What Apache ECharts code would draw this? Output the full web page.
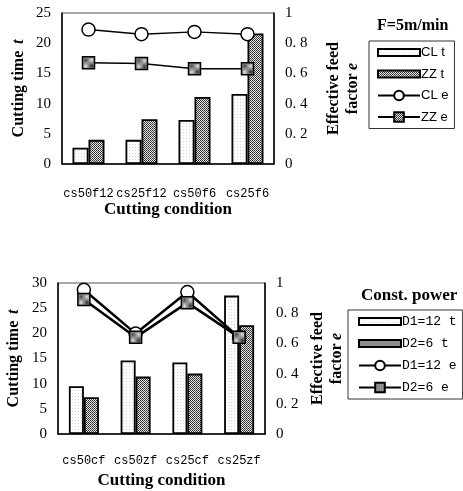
<!DOCTYPE html>
<html>
<head>
<meta charset="utf-8">
<script src="https://cdn.jsdelivr.net/npm/echarts@6/dist/echarts.min.js"></script>
<style>
  html, body { margin: 0; padding: 0; background: #fff; }
  #main { width: 463px; height: 491px; }
</style>
</head>
<body>
<div id="main"></div>
<script>
// top chart: constant feed F=5m/min
var topCats = ['cs50f12', 'cs25f12', 'cs50f6', 'cs25f6'];
var topCLt = [2.7, 4.0, 7.3, 11.6];
var topZZt = [4.0, 7.4, 11.1, 21.6];
var topCLe = [0.89, 0.86, 0.875, 0.86];
var topZZe = [0.67, 0.665, 0.63, 0.63];

// bottom chart: constant power
var botCats = ['cs50cf', 'cs50zf', 'cs25cf', 'cs25zf'];
var botD1t = [9.5, 14.6, 14.2, 27.5];
var botD2t = [7.3, 11.4, 12.0, 21.6];
var botD1e = [0.955, 0.665, 0.94, 0.64];
var botD2e = [0.89, 0.64, 0.87, 0.64];

var serif = '"Liberation Serif", "Times New Roman", serif';
var mono = '"Liberation Mono", "Courier New", monospace';

// stipple fills for the bars
function makePattern(size, bg, dots) {
    var c = document.createElement('canvas');
    c.width = size; c.height = size;
    var ctx = c.getContext('2d');
    ctx.fillStyle = bg;
    ctx.fillRect(0, 0, size, size);
    dots.forEach(function (d) {
        ctx.fillStyle = d[2];
        ctx.fillRect(d[0], d[1], 1, 1);
    });
    return { image: c, repeat: 'repeat' };
}
var lightFill = makePattern(3, '#fdfdfd', [[0, 0, '#d6d6d6']]);
var darkFill = makePattern(2, '#e6e6e6', [[0, 0, '#2a2a2a'], [1, 1, '#444']]);

function rightFmt(v) {
    if (v === 0) return '0';
    if (v === 1) return '1';
    return v.toFixed(1).replace('.', '. ');
}

var axisLine = { lineStyle: { color: '#000', width: 1.5 } };
var tickIn = { inside: true, length: 4, lineStyle: { color: '#000', width: 1.2 } };

function xAxis(grid, cats, margin, gap) {
    return {
        type: 'category', gridIndex: grid, data: cats,
        axisLine: axisLine,
        axisTick: tickIn,
        axisLabel: { color: '#000', fontFamily: mono, fontSize: 12, margin: margin, interval: 0, hideOverlap: false },
        name: 'Cutting condition', nameLocation: 'middle', nameGap: gap,
        nameTextStyle: { color: '#000', fontFamily: serif, fontWeight: 'bold', fontSize: 17 }
    };
}

function leftAxis(grid, max, gap) {
    return {
        type: 'value', gridIndex: grid, min: 0, max: max, interval: 5,
        axisLine: { show: true, lineStyle: { color: '#000', width: 1.5 } },
        axisTick: tickIn,
        splitLine: { show: false },
        axisLabel: { color: '#000', fontFamily: serif, fontSize: 15, margin: 11 },
        name: '{a|Cutting time}  {b|t}', nameLocation: 'middle', nameGap: gap, nameRotate: 90,
        nameTextStyle: {
            color: '#000',
            rich: {
                a: { fontFamily: serif, fontWeight: 'bold', fontSize: 16, color: '#000' },
                b: { fontFamily: serif, fontWeight: 'bold', fontStyle: 'italic', fontSize: 16, color: '#000' }
            }
        }
    };
}

function rightAxis(grid, gap) {
    return {
        type: 'value', gridIndex: grid, position: 'right', min: 0, max: 1, interval: 0.2,
        axisLine: { show: true, lineStyle: { color: '#000', width: 1.5 } },
        axisTick: tickIn,
        splitLine: { show: false },
        axisLabel: { color: '#000', fontFamily: serif, fontSize: 15, margin: 11, formatter: rightFmt },
        name: '{a|Effective feed}\n{a|factor} {b|e}', nameLocation: 'middle', nameGap: gap, nameRotate: 90,
        nameTextStyle: {
            color: '#000', align: 'center', lineHeight: 19,
            rich: {
                a: { fontFamily: serif, fontWeight: 'bold', fontSize: 16, color: '#000', lineHeight: 19 },
                b: { fontFamily: serif, fontWeight: 'bold', fontStyle: 'italic', fontSize: 16, color: '#000', lineHeight: 19 }
            }
        }
    };
}

function barSeries(name, x, y, data, fill, w) {
    return {
        name: name, type: 'bar', xAxisIndex: x, yAxisIndex: y, data: data,
        barWidth: w, barGap: '0%',
        itemStyle: { color: fill, borderColor: '#000', borderWidth: 1.8 }
    };
}

function lineSeries(name, x, y, data, symbol, fill, lw) {
    return {
        name: name, type: 'line', xAxisIndex: x, yAxisIndex: y, data: data,
        symbol: symbol, symbolSize: symbol === 'circle' ? 13 : 12,
        lineStyle: { color: '#000', width: lw },
        itemStyle: { color: fill, borderColor: '#000', borderWidth: 1.5 },
        z: 5
    };
}

var barIcon = 'path://M0 0H42V7H0Z';

var myChart = echarts.init(document.getElementById('main'), null, { renderer: 'canvas' });

var option = {
    animation: false,
    backgroundColor: '#fff',
    title: [
        { text: 'F=5m/min', left: 372, top: 13,
          textStyle: { fontFamily: serif, fontWeight: 'bold', fontSize: 16, color: '#000' } },
        { text: 'Const. power', left: 356, top: 282,
          textStyle: { fontFamily: serif, fontWeight: 'bold', fontSize: 17, color: '#000' } }
    ],
    legend: [
        {
            orient: 'vertical', left: 369, top: 41, width: 90,
            borderColor: '#333', borderWidth: 1, padding: [5, 6, 5, 8],
            itemWidth: 42, itemHeight: 12, itemGap: 8.5,
            textStyle: { fontFamily: '"Liberation Sans", Arial, sans-serif', fontSize: 13, color: '#000', padding: [0, 0, 0, -4] },
            data: [
                { name: 'CL t', icon: barIcon },
                { name: 'ZZ t', icon: barIcon },
                { name: 'CL e' },
                { name: 'ZZ e' }
            ]
        },
        {
            orient: 'vertical', left: 348, top: 310,
            borderColor: '#333', borderWidth: 1, padding: [5, 6, 5, 10],
            itemWidth: 42, itemHeight: 12, itemGap: 9,
            textStyle: { fontFamily: mono, fontSize: 13, color: '#000', padding: [0, 0, 0, -4] },
            data: [
                { name: 'D1=12 t', icon: barIcon },
                { name: 'D2=6 t', icon: barIcon },
                { name: 'D1=12 e' },
                { name: 'D2=6 e' }
            ]
        }
    ],
    grid: [
        { left: 62, top: 13, width: 212, height: 151, show: true, borderColor: '#555', borderWidth: 1 },
        { left: 58, top: 283, width: 207, height: 151, show: true, borderColor: '#555', borderWidth: 1 }
    ],
    xAxis: [
        xAxis(0, topCats, 24, 37),
        xAxis(1, botCats, 21, 38)
    ],
    yAxis: [
        leftAxis(0, 25, 35),
        rightAxis(0, 50),
        leftAxis(1, 30, 36),
        rightAxis(1, 43)
    ],
    series: [
        barSeries('CL t', 0, 0, topCLt, lightFill, 16),
        barSeries('ZZ t', 0, 0, topZZt, darkFill, 16),
        lineSeries('CL e', 0, 1, topCLe, 'circle', '#fff', 1.5),
        lineSeries('ZZ e', 0, 1, topZZe, 'rect', darkFill, 1.5),
        barSeries('D1=12 t', 1, 2, botD1t, lightFill, 15),
        barSeries('D2=6 t', 1, 2, botD2t, darkFill, 15),
        lineSeries('D1=12 e', 1, 3, botD1e, 'circle', '#fff', 2.5),
        lineSeries('D2=6 e', 1, 3, botD2e, 'rect', darkFill, 2.5)
    ]
};

myChart.setOption(option);
</script>
</body>
</html>
